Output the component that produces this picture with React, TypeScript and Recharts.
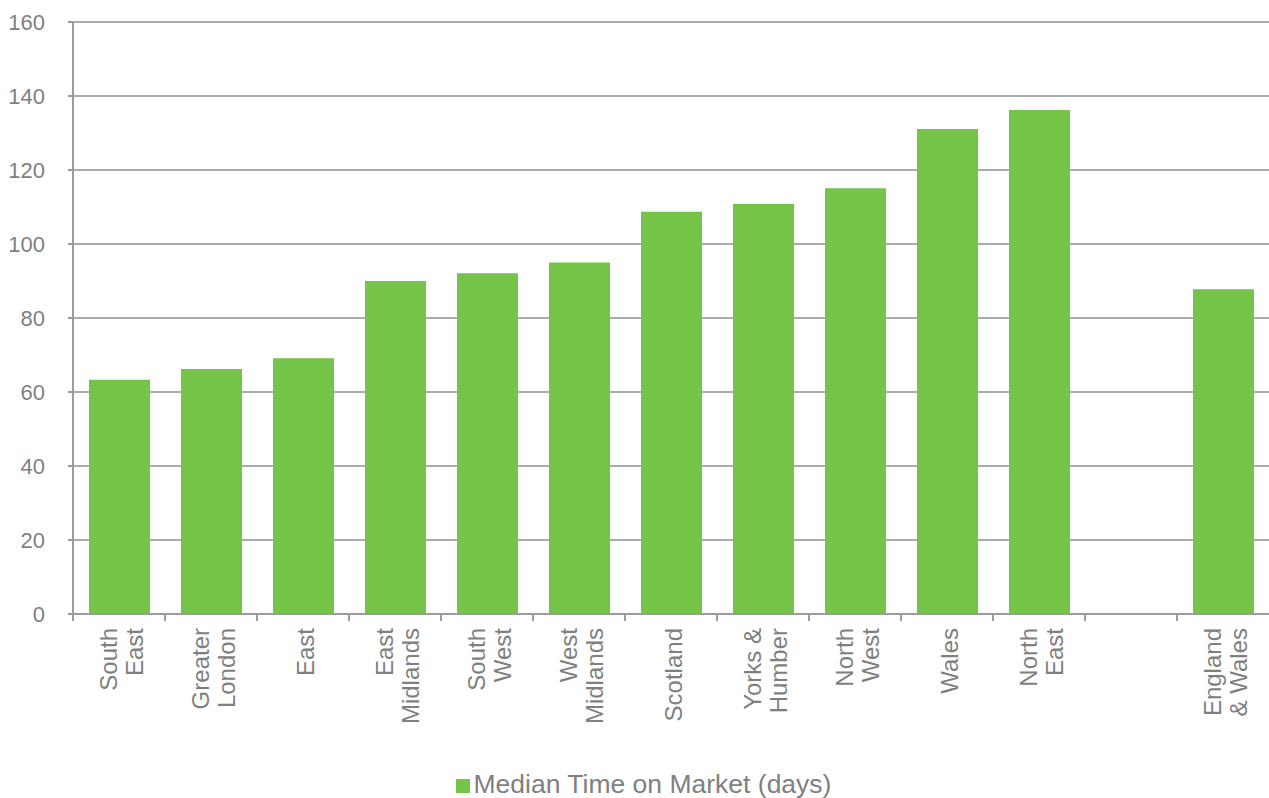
import React from 'react';
import { BarChart, Bar, XAxis, YAxis, CartesianGrid, Legend } from 'recharts';

const categories = [
  'South\nEast',
  'Greater\nLondon',
  'East',
  'East\nMidlands',
  'South\nWest',
  'West\nMidlands',
  'Scotland',
  'Yorks &\nHumber',
  'North\nWest',
  'Wales',
  'North\nEast',
  '',
  'England\n& Wales',
];
const medianDays: (number | null)[] = [63.3, 66.2, 69.1, 90, 92.1, 95, 108.7, 110.8, 115.1, 131.1, 136.2, null, 87.8];
const yTicks = [0, 20, 40, 60, 80, 100, 120, 140, 160];
const seriesName = 'Median Time on Market (days)';

const data = categories.map((c, i) => ({ name: c, value: medianDays[i] }));

const FONT = '"Liberation Sans", Arial, sans-serif';
const TEXT = '#7f7f7f';
const AXIS = '#9a9a9a';
const GREEN = '#74c447';

const CatTick = (props: any) => {
  const { x, y, payload } = props;
  const half = payload && payload.offset ? payload.offset : 46;
  const lines = String(payload.value).split('\n').filter((s) => s.length > 0);
  const n = lines.length;
  return (
    <g>
      <line x1={x - half} x2={x - half} y1={y - 14} y2={y - 7} stroke={AXIS} strokeWidth={2} />
      <g transform={`translate(${x},${y})`}>
        <text transform="rotate(-90)" textAnchor="end" fill={TEXT} fontSize={24} fontFamily={FONT}>
          {lines.map((l, i) => (
            <tspan key={i} x={0} y={11 - 13 * (n - 1) + 26 * i}>
              {l}
            </tspan>
          ))}
        </text>
      </g>
    </g>
  );
};

export default function App() {
  return (
    <div style={{ position: 'absolute', left: 0, top: 0, width: 1269, height: 798, background: '#fff' }}>
      <BarChart width={1269} height={798} data={data} margin={{ top: 22, right: 0, left: 0, bottom: 0 }}>
        <CartesianGrid vertical={false} stroke="#ababab" strokeWidth={2} />
        <XAxis
          dataKey="name"
          interval={0}
          height={152}
          tickSize={7}
          tickMargin={7}
          tickLine={false}
          axisLine={{ stroke: AXIS, strokeWidth: 2 }}
          tick={<CatTick />}
        />
        <YAxis
          width={73}
          domain={[0, 160]}
          ticks={yTicks}
          interval={0}
          tickSize={5}
          tickMargin={23}
          tickLine={{ stroke: AXIS, strokeWidth: 2 }}
          axisLine={{ stroke: AXIS, strokeWidth: 2 }}
          tick={{ fill: TEXT, fontSize: 22, fontFamily: FONT }}
        />
        <Legend
          verticalAlign="bottom"
          align="center"
          iconType="square"
          iconSize={14}
          wrapperStyle={{ height: 32, fontFamily: FONT, fontSize: 26.5, lineHeight: '36px', paddingLeft: 14 }}
          formatter={(v: any) => <span style={{ color: TEXT }}>{v}</span>}
        />
        <Bar dataKey="value" name={seriesName} fill={GREEN} barSize={61} isAnimationActive={false} />
      </BarChart>
    </div>
  );
}
